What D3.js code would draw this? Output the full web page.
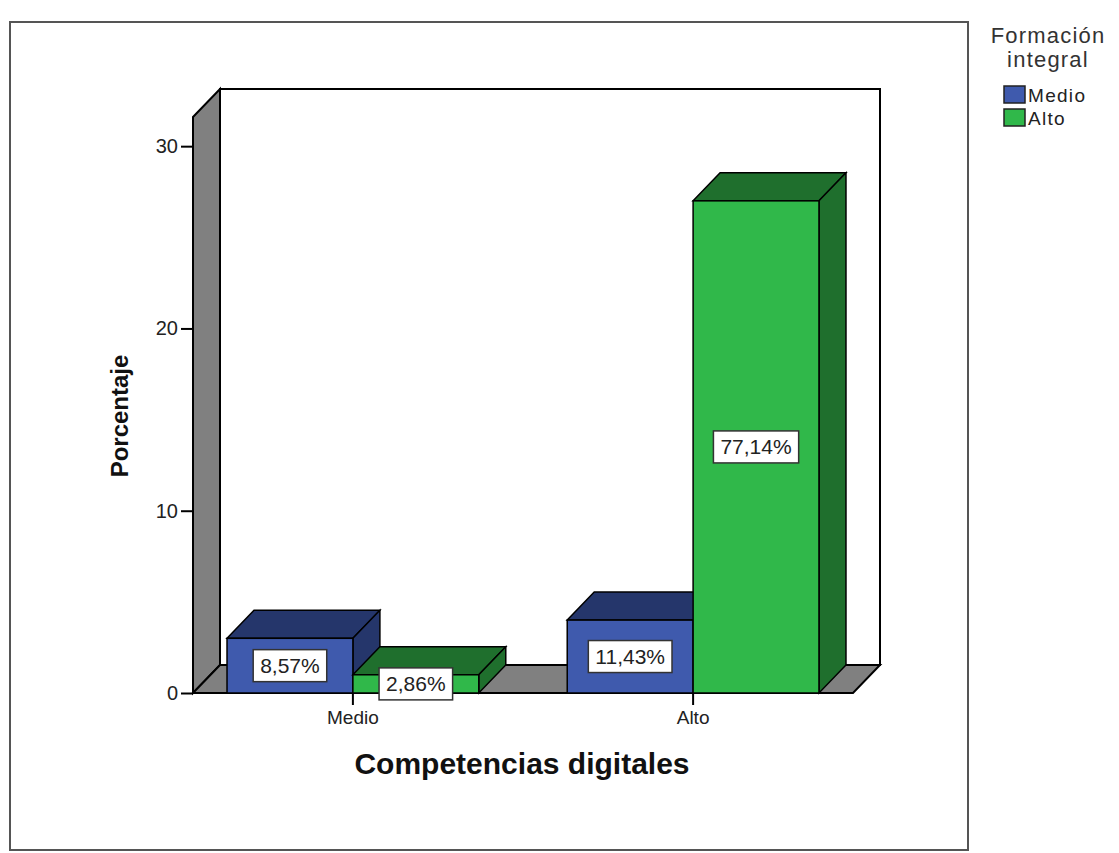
<!DOCTYPE html>
<html>
<head>
<meta charset="utf-8">
<script src="https://cdn.jsdelivr.net/npm/d3@7"></script>
<style>
  body { margin: 0; background: #fff; }
  svg { font-family: "Liberation Sans", Arial, sans-serif; }
</style>
</head>
<body>
<svg id="svg" width="1119" height="853"></svg>
<script>
const categories = ["Medio", "Alto"];
const series = ["Medio", "Alto"];
const medioValues = [3, 4];
const altoValues = [1, 27];
const medioLabels = ["8,57%", "11,43%"];
const altoLabels = ["2,86%", "77,14%"];
const yTicks = [0, 10, 20, 30];

const colors = {
    Medio: { front: "#3f5aad", dark: "#25366b" },
    Alto: { front: "#30b84a", dark: "#1f6f2d" }
};

// depth offset for the fake 3d look
const dx = 27, dy = -28;

let svg = d3.select("#svg");

// outer frame
svg.append("rect")
    .attr("x", 10).attr("y", 22)
    .attr("width", 958).attr("height", 828)
    .attr("fill", "none").attr("stroke", "#555").attr("stroke-width", 2);

var x = d3.scaleBand()
    .domain(categories)
    .range([193, 853])
    .paddingInner(0.26)
    .paddingOuter(0.1);

var xs = d3.scaleBand()
    .domain(series)
    .range([0, x.bandwidth()]);

var y = d3.scaleLinear()
    .domain([0, 31.6])
    .range([693, 117]);

const x0 = 193, x1 = 853, yb = y(0), yt = y(31.6);

// back wall
svg.append("rect")
    .attr("x", x0 + dx).attr("y", yt + dy)
    .attr("width", x1 - x0).attr("height", yb - yt)
    .attr("fill", "#fff").attr("stroke", "#000").attr("stroke-width", 2);

// left wall
svg.append("polygon")
    .attr("points", [[x0, yt], [x0 + dx, yt + dy], [x0 + dx, yb + dy], [x0, yb]].join(" "))
    .attr("fill", "#808080").attr("stroke", "#000").attr("stroke-width", 2);

// floor
svg.append("polygon")
    .attr("points", [[x0, yb], [x1, yb], [x1 + dx, yb + dy], [x0 + dx, yb + dy]].join(" "))
    .attr("fill", "#808080").attr("stroke", "#000").attr("stroke-width", 2);

// y axis
let yAxis = svg.append("g")
    .attr("transform", "translate(" + x0 + ",0)")
    .call(d3.axisLeft(y).tickValues(yTicks).tickSize(12).tickPadding(3));
yAxis.select(".domain").remove();
yAxis.selectAll("line").attr("stroke", "#000").attr("stroke-width", 2);
yAxis.selectAll("text").attr("font-size", 20).attr("fill", "#222")
    .attr("font-family", "Liberation Sans, Arial, sans-serif");

// bars
let bars = [];
categories.forEach((c, i) => {
    bars.push({ cat: c, ser: "Medio", value: medioValues[i], label: medioLabels[i] });
    bars.push({ cat: c, ser: "Alto", value: altoValues[i], label: altoLabels[i] });
});

let barG = svg.append("g");
bars.forEach(d => {
    const bx0 = x(d.cat) + xs(d.ser), bx1 = bx0 + xs.bandwidth();
    const by = y(d.value);
    const col = colors[d.ser];
    let g = barG.append("g");
    g.append("polygon")
        .attr("points", [[bx0, by], [bx0 + dx, by + dy], [bx1 + dx, by + dy], [bx1, by]].join(" "))
        .attr("fill", col.dark).attr("stroke", "#000").attr("stroke-width", 1.5);
    g.append("polygon")
        .attr("points", [[bx1, by], [bx1 + dx, by + dy], [bx1 + dx, yb + dy], [bx1, yb]].join(" "))
        .attr("fill", col.dark).attr("stroke", "#000").attr("stroke-width", 1.5);
    g.append("rect")
        .attr("x", bx0).attr("y", by)
        .attr("width", bx1 - bx0).attr("height", yb - by)
        .attr("fill", col.front).attr("stroke", "#000").attr("stroke-width", 1.5);
});

// value labels
bars.forEach(d => {
    const cx = x(d.cat) + xs(d.ser) + xs.bandwidth() / 2;
    const cy = (y(d.value) + yb) / 2;
    let g = svg.append("g");
    let t = g.append("text")
        .attr("x", cx).attr("y", cy + 7.5)
        .attr("text-anchor", "middle")
        .attr("font-size", 21).attr("fill", "#222")
        .text(d.label);
    const w = t.node().getComputedTextLength() + 14;
    g.insert("rect", "text")
        .attr("x", cx - w / 2).attr("y", cy - 16)
        .attr("width", w).attr("height", 32)
        .attr("fill", "#fff").attr("stroke", "#333").attr("stroke-width", 1.5);
});

// x axis
let xAxis = svg.append("g")
    .attr("transform", "translate(0," + yb + ")")
    .call(d3.axisBottom(x).tickSize(12).tickPadding(6));
xAxis.select(".domain").remove();
xAxis.selectAll("line").attr("stroke", "#000").attr("stroke-width", 2);
xAxis.selectAll("text").attr("font-size", 19).attr("fill", "#222")
    .attr("font-family", "Liberation Sans, Arial, sans-serif");

// axis titles
svg.append("text")
    .attr("x", 522).attr("y", 774)
    .attr("text-anchor", "middle")
    .attr("font-size", 30).attr("font-weight", "bold").attr("fill", "#111")
    .text("Competencias digitales");

svg.append("text")
    .attr("transform", "translate(128,416) rotate(-90)")
    .attr("text-anchor", "middle")
    .attr("font-size", 24).attr("font-weight", "bold").attr("fill", "#111")
    .text("Porcentaje");

// legend
let legend = svg.append("g");
legend.append("text")
    .attr("x", 1048).attr("y", 43)
    .attr("text-anchor", "middle")
    .attr("font-size", 22).attr("letter-spacing", 1.2).attr("fill", "#333")
    .text("Formación");
legend.append("text")
    .attr("x", 1048).attr("y", 67)
    .attr("text-anchor", "middle")
    .attr("font-size", 22).attr("letter-spacing", 1.2).attr("fill", "#333")
    .text("integral");

series.forEach((s, i) => {
    const ly = 86 + i * 23;
    legend.append("rect")
        .attr("x", 1004).attr("y", ly)
        .attr("width", 21).attr("height", 17)
        .attr("fill", colors[s].front).attr("stroke", "#222").attr("stroke-width", 1.5);
    legend.append("text")
        .attr("x", 1028).attr("y", ly + 16)
        .attr("font-size", 19).attr("letter-spacing", 1.3).attr("fill", "#222")
        .text(s);
});
</script>
</body>
</html>
